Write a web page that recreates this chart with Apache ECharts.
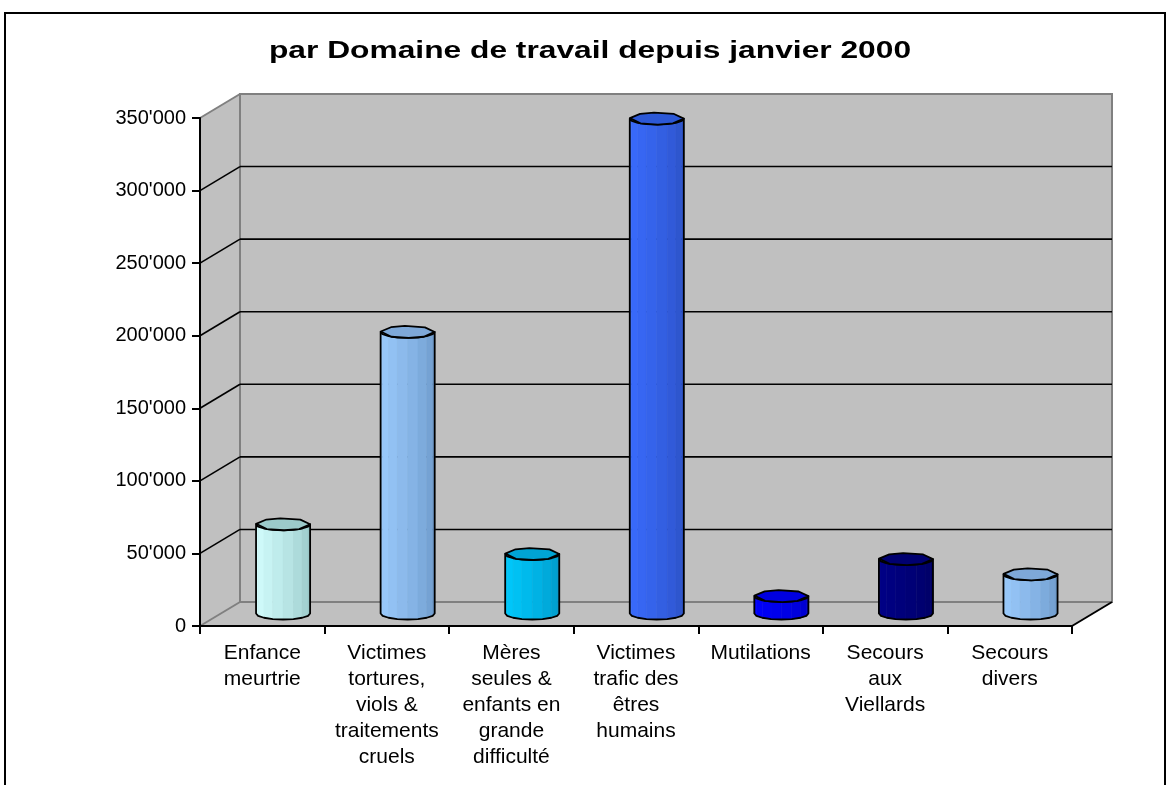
<!DOCTYPE html>
<html>
<head>
<meta charset="utf-8">
<script src="https://cdn.jsdelivr.net/npm/echarts@6/dist/echarts.min.js"></script>
<style>html,body{margin:0;padding:0;background:#fff}#c{width:1172px;height:785px}</style>
</head>
<body>
<div id="c"></div>
<script>
const titleText = "par Domaine de travail depuis janvier 2000";
const categories = [
  "Enfance\nmeurtrie",
  "Victimes\ntortures,\nviols &\ntraitements\ncruels",
  "Mères\nseules &\nenfants en\ngrande\ndifficulté",
  "Victimes\ntrafic des\nêtres\nhumains",
  "Mutilations",
  "Secours\naux\nViellards",
  "Secours\ndivers"
];
const values = [61500, 194000, 41000, 341000, 12000, 37500, 27000];
const yTicks = [0, 50000, 100000, 150000, 200000, 250000, 300000, 350000];
// colours per bar: [left light, right dark, top face]
const barColors = [
  ["#D4FFFF", "#92C2C2", "#9CCACA"],
  ["#9CCCFF", "#6894C4", "#7EA8D8"],
  ["#00CCFF", "#0092C2", "#00A4D4"],
  ["#3A6CFF", "#2A4EBE", "#2C58D6"],
  ["#0000FF", "#0000C4", "#0000E0"],
  ["#000088", "#000060", "#000070"],
  ["#9CCCFF", "#6894C4", "#7EA8D8"]
];

const DX = 40, DY = -24;      // 3D depth offset
const BAR_DEPTH = 0.52;       // bars sit at mid-depth
const WALL = "#C0C0C0", EDGE = "#808080";

const chart = echarts.init(document.getElementById('c'), null, {renderer: 'canvas'});

function fmt(v) { return v === 0 ? '0' : (v / 1000) + "'000"; }

function renderWalls(params, api) {
  const cs = params.coordSys;
  const x0 = cs.x, x1 = cs.x + cs.width;
  const yT = api.coord([0, yTicks[yTicks.length - 1]])[1];
  const yB = api.coord([0, 0])[1];
  const children = [];
  children.push({type: 'polygon', shape: {points: [[x0, yT], [x0 + DX, yT + DY], [x0 + DX, yB + DY], [x0, yB]]},
    style: {fill: WALL, stroke: null}});
  children.push({type: 'polygon', shape: {points: [[x0, yB], [x1, yB], [x1 + DX, yB + DY], [x0 + DX, yB + DY]]},
    style: {fill: WALL, stroke: null}});
  children.push({type: 'rect', shape: {x: x0 + DX, y: yT + DY, width: x1 - x0, height: yB - yT},
    style: {fill: WALL, stroke: EDGE, lineWidth: 2}});
  yTicks.forEach(function (v, k) {
    const y = api.coord([0, v])[1];
    const edge = (k === 0 || k === yTicks.length - 1);
    children.push({type: 'line', shape: {x1: x0, y1: y, x2: x0 + DX, y2: y + DY},
      style: {stroke: edge ? EDGE : '#000', lineWidth: edge ? 2 : 1.6}});
    if (!edge) {
      children.push({type: 'line', shape: {x1: x0 + DX, y1: y + DY, x2: x1 + DX, y2: y + DY},
        style: {stroke: '#000', lineWidth: 1.6}});
    }
  });
  children.push({type: 'line', shape: {x1: x1, y1: yB, x2: x1 + DX, y2: yB + DY},
    style: {stroke: '#000', lineWidth: 2}});
  return {type: 'group', children: children};
}

function renderBar(params, api) {
  const i = api.value(0), v = api.value(1);
  const base = api.coord([i, 0]);
  const top = api.coord([i, v]);
  const bw = api.size([1, 0])[0];
  const rw = bw * 0.217, rh = 6;
  const cx = base[0] + DX * BAR_DEPTH;
  const yb = base[1] + DY * BAR_DEPTH;
  const yt = top[1] + DY * BAR_DEPTH;
  const col = barColors[params.dataIndex];
  const N = 16;
  const pt = function (a, y) { return [cx + rw * Math.cos(a), y + rh * Math.sin(a)]; };
  const children = [];
  const nf = N / 2;
  for (let j = 0; j < nf; j++) {
    const a1 = Math.PI - j * 2 * Math.PI / N, a2 = Math.PI - (j + 1) * 2 * Math.PI / N;
    const t = Math.pow((j + 0.5) / nf, 1.4);
    const c = echarts.color.lerp(t, [col[0], col[1]]);
    children.push({type: 'polygon', shape: {points: [pt(a1, yt), pt(a2, yt), pt(a2, yb), pt(a1, yb)]},
      style: {fill: c, stroke: c, lineWidth: 0.6}});
  }
  const body = [[cx - rw, yt], [cx - rw, yb]];
  for (let k = nf - 1; k >= 0; k--) body.push(pt(k * 2 * Math.PI / N, yb));
  body.push([cx + rw, yt]);
  for (let k = 1; k < nf; k++) body.push(pt(k * 2 * Math.PI / N, yt));
  children.push({type: 'polygon', shape: {points: body},
    style: {fill: null, stroke: '#000', lineWidth: 1.8, lineJoin: 'round'}});
  const topFace = [];
  for (let k = 0; k < 8; k++) topFace.push(pt(k * Math.PI / 4 + 0.15 * Math.sin(k * 1.7), yt));
  children.push({type: 'polygon', shape: {points: topFace},
    style: {fill: col[2], stroke: '#000', lineWidth: 1.8, lineJoin: 'round'}});
  return {type: 'group', children: children};
}

const option = {
  backgroundColor: '#fff',
  animation: false,
  graphic: [
    {type: 'rect', shape: {x: 5, y: 13, width: 1160, height: 800}, style: {fill: null, stroke: '#000', lineWidth: 2}, z: 100},
    {type: 'text', x: 590, y: 52, scaleX: 1.38,
      style: {text: titleText, font: 'bold 23px "Liberation Sans", Arial, sans-serif', fill: '#000',
        textAlign: 'center', textVerticalAlign: 'middle'}}
  ],
  grid: {left: 200, right: 100, top: 118, bottom: 159},
  xAxis: {
    type: 'category', data: categories, boundaryGap: true,
    axisLine: {show: true, lineStyle: {color: '#000', width: 2}},
    axisTick: {show: true, length: 8, interval: 0, lineStyle: {color: '#000', width: 2}},
    axisLabel: {interval: 0, color: '#000', fontFamily: '"Liberation Sans", Arial, sans-serif', fontSize: 21,
      lineHeight: 26, margin: 14, align: 'center'},
    splitLine: {show: false}
  },
  yAxis: {
    type: 'value', min: 0, max: 350000, interval: 50000,
    axisLine: {show: true, lineStyle: {color: '#000', width: 2}},
    axisTick: {show: true, length: 8, lineStyle: {color: '#000', width: 2}},
    axisLabel: {color: '#000', fontFamily: '"Liberation Sans", Arial, sans-serif', fontSize: 20, margin: 14,
      formatter: fmt},
    splitLine: {show: false}
  },
  series: [
    {type: 'custom', z: -1, renderItem: renderWalls, data: [[0, 0]], silent: true},
    {type: 'custom', z: 5, renderItem: renderBar, data: values.map(function (v, i) { return [i, v]; })}
  ]
};
chart.setOption(option);
</script>
</body>
</html>
